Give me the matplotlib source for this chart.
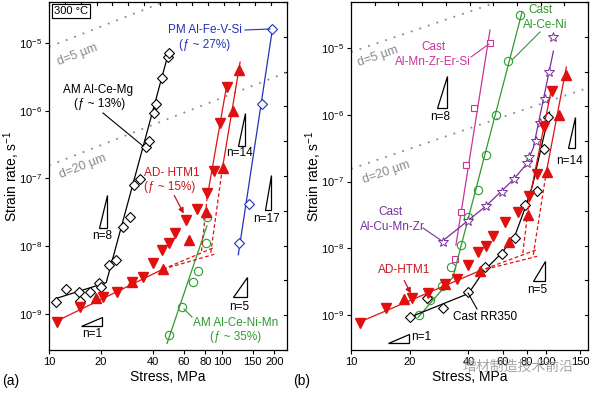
import numpy as np
import matplotlib
matplotlib.use('Agg')
import matplotlib.pyplot as plt
from matplotlib.ticker import NullLocator, FixedLocator, FixedFormatter, LogFormatterSciNotation

plt.rcParams['font.family'] = ['Liberation Sans', 'DejaVu Sans']
plt.rcParams['mathtext.fontset'] = 'custom'
plt.rcParams['mathtext.rm'] = 'Liberation Sans'
plt.rcParams['mathtext.it'] = 'Liberation Sans:italic'

RED = '#e01010'
RED_TXT = '#c8141c'
BLUE = '#2233bb'
GREEN = '#2f9a2f'
MAG = '#cc3399'
PURP = '#7a2e9e'
GRAY = '#8a8a8a'

# ---- data (stress MPa, strain rate 1/s) ----
# AD-HTM1, two test series (down / up triangles)
htm_dn_x = [11.1, 15.1, 20.5, 24.7, 30.2, 34.9, 39.9, 45.0, 49.4, 53.5, 61.9, 71.7, 81.9, 90.0, 97.6, 107]
htm_dn_y = [7.7e-10, 1.27e-9, 1.8e-9, 2.12e-9, 2.97e-9, 3.5e-9, 5.7e-9, 8.7e-9, 1.1e-8, 1.55e-8,
            2.45e-8, 3.55e-8, 6.1e-8, 1.29e-7, 6.6e-7, 2.24e-6]
htm_up_x = [18.7, 30.2, 45.6, 64.4, 80.8, 101.4, 116, 126]
htm_up_y = [1.73e-9, 2.97e-9, 4.6e-9, 1.24e-8, 3.15e-8, 1.41e-7, 1.0e-6, 4.0e-6]
htm_fit_x = [11.0, 45.6]
htm_fit_y = [7.8e-10, 4.6e-9]
htm_ext1_x, htm_ext1_y = [45.6, 90], [4.6e-9, 9.6e-9]
htm_ext2_x, htm_ext2_y = [45.6, 90], [4.6e-9, 7.6e-9]
htm_dn_fit_x, htm_dn_fit_y = [81.9, 107], [5.2e-8, 2.6e-6]
htm_dn_ext_x, htm_dn_ext_y = [76, 81.9], [8.5e-9, 5.2e-8]
htm_up_fit_x, htm_up_fit_y = [100, 127], [1.33e-7, 5.2e-6]
htm_up_ext_x, htm_up_ext_y = [86, 100], [8.0e-9, 1.33e-7]

# AM Al-Ce-Mg
cemg_x = [11.0, 12.5, 14.9, 15.1, 17.3, 19.5, 20.0, 22.2, 24.4, 26.8, 29.4, 31.0, 33.6, 36.4,
          37.8, 40.4, 41.5, 45.0, 48.7, 49.4]
cemg_y = [1.5e-9, 2.34e-9, 2.11e-9, 1.55e-9, 2.1e-9, 2.87e-9, 2.5e-9, 5.3e-9, 6.3e-9, 1.92e-8,
          2.7e-8, 8.0e-8, 9.8e-8, 2.92e-7, 3.58e-7, 9.3e-7, 1.26e-6, 3.04e-6, 6.2e-6, 7.1e-6]
cemg_fit_x = [11.0, 21.4, 49.5]
cemg_fit_y = [1.7e-9, 2.9e-9, 7.8e-6]

# PM Al-Fe-V-Si
fevsi_x = [125, 143, 170, 194.6]
fevsi_y = [1.12e-8, 4.2e-8, 1.26e-6, 1.61e-5]
fevsi_fit_x = [124, 196]
fevsi_fit_y = [7.5e-9, 1.7e-5]

# AM Al-Ce-Ni-Mn
cenimn_x = [49.4, 58.7, 67.9, 72.6, 80.8, 81.7]
cenimn_y = [4.9e-10, 1.27e-9, 2.97e-9, 4.3e-9, 1.12e-8, 2.7e-8]
cenimn_fit_x = [48.1, 81.7]
cenimn_fit_y = [3.7e-10, 2.0e-8]

# Cast Al-Mn-Zr-Er-Si
mnzr_x = [34.1, 36.7, 38.9, 42.8, 51.6]
mnzr_y = [6.9e-9, 3.5e-8, 1.77e-7, 1.26e-6, 1.19e-5]
mnzr_fit_x = [34.5, 51.6]
mnzr_fit_y = [1.12e-8, 1.86e-5]

# Cast Al-Ce-Ni
ceni_x = [22.3, 25.4, 29.3, 32.6, 36.7, 39.8, 44.8, 49.2, 55.4, 63.8, 73.6]
ceni_y = [1.0e-9, 1.68e-9, 2.72e-9, 5.2e-9, 1.12e-8, 2.94e-8, 7.5e-8, 2.5e-7, 9.9e-7, 6.4e-6, 3.12e-5]
ceni_fit_x = [22.1, 33.3, 75.3]
ceni_fit_y = [9.3e-10, 3.7e-9, 3.46e-5]

# Cast Al-Cu-Mn-Zr
cumn_x = [29.6, 39.8, 49.2, 59.5, 68.6, 79.9, 81.8, 88.8, 93.1, 98.8, 103.5, 108.6]
cumn_y = [1.24e-8, 2.56e-8, 4.3e-8, 6.96e-8, 1.09e-7, 1.89e-7, 2.33e-7, 4.04e-7, 7.5e-7,
          1.72e-6, 4.37e-6, 1.46e-5]
cumn_fit_x = [29.6, 49.2, 67.5, 79.0, 86.0, 109]
cumn_fit_y = [1.3e-8, 4.3e-8, 1.05e-7, 1.8e-7, 3.2e-7, 9.0e-6]

# Cast RR350
rr_x = [20.1, 24.5, 29.6, 39.8, 48.6, 59.5, 69.3, 78.0, 89.9, 97.7, 102.4]
rr_y = [9.3e-10, 1.8e-9, 1.27e-9, 2.2e-9, 5.2e-9, 8.2e-9, 1.43e-8, 4.45e-8, 7.2e-8, 3.07e-7, 9.2e-7]
rr_fit_x = [20.4, 40.0, 48.0, 59.5, 69.5, 77.5, 85.0, 104]
rr_fit_y = [9.5e-10, 2.1e-9, 4.6e-9, 8.6e-9, 1.6e-8, 3.8e-8, 8.5e-8, 1.1e-6]

# grain-size lines (rate at 10 MPa, slope 1)
d_labels = ['d=5 \u00b5m', 'd=20 \u00b5m']
d_rate10 = [8.7e-6, 1.55e-7]

xticks_a = [10, 20, 40, 60, 80, 100, 150, 200]
xticks_b = [10, 20, 40, 60, 80, 100, 150]
yticks = [1e-9, 1e-8, 1e-7, 1e-6, 1e-5]

fig = plt.figure(figsize=(5.91, 3.93), dpi=100)
W, H = 591, 393
box_a = (49, 2, 287, 350)
box_b = (351, 2, 588, 350)


def P(box, px, py):
    l, t, r, b = box
    return ((px - l) / (r - l), (b - py) / (b - t))


def make_ax(box, xlim, ylim, xticks, ntop):
    l, t, r, b = box
    ax = fig.add_axes([l / W, 1 - b / H, (r - l) / W, (b - t) / H])
    ax.set_xscale('log')
    ax.set_yscale('log')
    ax.set_xlim(*xlim)
    ax.set_ylim(*ylim)
    ax.xaxis.set_major_locator(FixedLocator(xticks))
    ax.xaxis.set_major_formatter(FixedFormatter([str(v) for v in xticks]))
    ax.yaxis.set_major_locator(FixedLocator(yticks))
    ax.yaxis.set_major_formatter(LogFormatterSciNotation())
    ax.xaxis.set_minor_locator(NullLocator())
    ax.yaxis.set_minor_locator(NullLocator())
    ax.tick_params(axis='both', direction='out', length=3, width=0.8, labelsize=8, pad=2)
    for s in ax.spines.values():
        s.set_linewidth(0.9)
    ax.set_xlabel('Stress, MPa', fontsize=10, va='center')
    ax.xaxis.set_label_coords(0.5, P(box, 0, 377)[1])
    ax.set_ylabel('Strain rate, s$^{-1}$', fontsize=10, va='center')
    ax.yaxis.set_label_coords(P(box, l - 37, 0)[0], 0.5)
    # evenly spaced inner ticks on top and right spines
    tx, ty = 3 / (r - l), 3 / (b - t)
    for f in np.linspace(0, 1, ntop + 1):
        ax.plot([f, f], [1, 1 - ty], color='k', lw=0.8, transform=ax.transAxes, clip_on=False)
    for f in np.linspace(0, 1, 11):
        ax.plot([1, 1 - tx], [f, f], color='k', lw=0.8, transform=ax.transAxes, clip_on=False)
    return ax


def txt(ax, box, px, py, s, color='k', size=8.5, **kw):
    ax.text(*P(box, px, py), s, transform=ax.transAxes, color=color, fontsize=size,
            ha=kw.pop('ha', 'center'), va=kw.pop('va', 'center'), **kw)


def seg(ax, box, p0, p1, color='k'):
    a, b = P(box, *p0), P(box, *p1)
    ax.plot([a[0], b[0]], [a[1], b[1]], color=color, lw=0.8, transform=ax.transAxes)


def tri(ax, box, bl, br_x, top_y, label=None, lpos=None):
    a = P(box, *bl)
    b = P(box, br_x, bl[1])
    c = P(box, br_x, top_y)
    ax.fill([a[0], b[0], c[0]], [a[1], b[1], c[1]], facecolor='white', edgecolor='k',
            lw=0.9, transform=ax.transAxes, zorder=5)
    if label:
        txt(ax, box, lpos[0], lpos[1], label, size=8.5)


def temp_box(ax, box):
    ax.text(*P(box, 54, 11), '300 \u00b0C', transform=ax.transAxes, fontsize=8, ha='left',
            va='center', bbox=dict(boxstyle='square,pad=0.2', fc='white', ec='k', lw=0.8))


def dlines(ax, xlim):
    xs = np.array(xlim)
    for r10 in d_rate10:
        ax.plot(xs, r10 * xs / 10, ls=(0, (1, 4)), color=GRAY, lw=1.3)


def htm(ax):
    ax.plot(htm_fit_x, htm_fit_y, color=RED, lw=0.9)
    for ex, ey in [(htm_ext1_x, htm_ext1_y), (htm_ext2_x, htm_ext2_y),
                   (htm_dn_ext_x, htm_dn_ext_y), (htm_up_ext_x, htm_up_ext_y)]:
        ax.plot(ex, ey, color=RED, lw=0.9, ls=(0, (3, 2)))
    ax.plot(htm_dn_fit_x, htm_dn_fit_y, color=RED, lw=0.9)
    ax.plot(htm_up_fit_x, htm_up_fit_y, color=RED, lw=0.9)
    ax.plot(htm_dn_x, htm_dn_y, 'v', color=RED, ms=6.5, mec=RED, ls='none', zorder=4)
    ax.plot(htm_up_x, htm_up_y, '^', color=RED, ms=6.5, mec=RED, ls='none', zorder=4)


# ================= panel (a) =================
ax = make_ax(box_a, (10, 237), (2.95e-10, 4.0e-5), xticks_a, 15)
A = box_a
dlines(ax, (10, 237))
txt(ax, A, 78, 55, d_labels[0], color=GRAY, size=9, rotation=21)
txt(ax, A, 83, 167, d_labels[1], color=GRAY, size=9, rotation=21)

ax.plot(cemg_fit_x, cemg_fit_y, color='k', lw=0.9)
ax.plot(cemg_x, cemg_y, 'D', mfc='white', mec='k', ms=5.5, mew=0.8, ls='none')
ax.plot(fevsi_fit_x, fevsi_fit_y, color=BLUE, lw=0.9)
ax.plot(fevsi_x, fevsi_y, 'D', mfc='white', mec=BLUE, ms=5.5, mew=0.8, ls='none')
ax.plot(cenimn_fit_x, cenimn_fit_y, color=GREEN, lw=0.9)
ax.plot(cenimn_x, cenimn_y, 'o', mfc='none', mec=GREEN, ms=6, mew=0.8, ls='none')
htm(ax)

temp_box(ax, A)
txt(ax, A, 98, 90, 'AM Al-Ce-Mg')
txt(ax, A, 100, 104, '(\u0192 ~ 13%)')
seg(ax, A, (103, 113), (143, 146))
txt(ax, A, 205, 30, 'PM Al-Fe-V-Si', color=BLUE)
txt(ax, A, 205, 45, '(\u0192 ~ 27%)', color=BLUE)
seg(ax, A, (245, 30), (270, 29), color=BLUE)
txt(ax, A, 172, 173, 'AD- HTM1', color=RED_TXT)
txt(ax, A, 170, 187, '(\u0192 ~ 15%)', color=RED_TXT)
ax.annotate('', xy=P(A, 185, 216), xytext=P(A, 173, 193), xycoords='axes fraction',
            arrowprops=dict(arrowstyle='-|>', color=RED_TXT, lw=0.9, mutation_scale=8))
txt(ax, A, 236, 323, 'AM Al-Ce-Ni-Mn', color=GREEN)
txt(ax, A, 236, 337, '(\u0192 ~ 35%)', color=GREEN)
seg(ax, A, (184, 309), (192, 317), color=GREEN)

tri(ax, A, (99, 228), 107, 195, 'n=8', (102, 236))
tri(ax, A, (81, 326), 102, 317, 'n=1', (92, 334))
tri(ax, A, (238, 146), 245, 113, 'n=14', (240, 153))
tri(ax, A, (265, 210), 271, 175, 'n=17', (267, 219))
tri(ax, A, (233, 297), 247, 277, 'n=5', (239, 307))

# ================= panel (b) =================
bx = make_ax(box_b, (10, 164), (3.0e-10, 4.9e-5), xticks_b, 10)
B = box_b
dlines(bx, (10, 164))
txt(bx, B, 378, 56, d_labels[0], color=GRAY, size=9, rotation=19)
txt(bx, B, 386, 172, d_labels[1], color=GRAY, size=9, rotation=19)

bx.plot(mnzr_fit_x, mnzr_fit_y, color=MAG, lw=0.9)
bx.plot(mnzr_x, mnzr_y, 's', mfc='white', mec=MAG, ms=5, mew=0.8, ls='none')
bx.plot(ceni_fit_x, ceni_fit_y, color=GREEN, lw=0.9)
bx.plot(ceni_x, ceni_y, 'o', mfc='none', mec=GREEN, ms=6, mew=0.8, ls='none')
bx.plot(cumn_fit_x, cumn_fit_y, color=PURP, lw=0.9)
bx.plot(cumn_x, cumn_y, '*', mfc='white', mec=PURP, ms=7, mew=0.7, ls='none')
bx.plot(rr_fit_x, rr_fit_y, color='k', lw=0.9)
bx.plot(rr_x, rr_y, 'D', mfc='white', mec='k', ms=5.5, mew=0.8, ls='none')
htm(bx)

temp_box(bx, B)
txt(bx, B, 433, 47, 'Cast', color=MAG)
txt(bx, B, 433, 62, 'Al-Mn-Zr-Er-Si', color=MAG)
seg(bx, B, (471, 57), (489, 44), color=MAG)
txt(bx, B, 540, 10, 'Cast', color=GREEN)
txt(bx, B, 545, 25, 'Al-Ce-Ni', color=GREEN)
seg(bx, B, (540, 32), (512, 60), color=GREEN)
txt(bx, B, 390, 212, 'Cast', color=PURP)
txt(bx, B, 392, 227, 'Al-Cu-Mn-Zr', color=PURP)
seg(bx, B, (423, 228), (442, 241), color=PURP)
txt(bx, B, 404, 270, 'AD-HTM1', color=RED_TXT)
bx.annotate('', xy=P(B, 412, 296), xytext=P(B, 403, 278), xycoords='axes fraction',
            arrowprops=dict(arrowstyle='-|>', color=RED_TXT, lw=0.9, mutation_scale=8))
txt(bx, B, 485, 317, 'Cast RR350')
seg(bx, B, (477, 309), (468, 293))

tri(bx, B, (437, 108), 447, 76, 'n=8', (440, 117))
tri(bx, B, (568, 148), 575, 117, 'n=14', (570, 161))
tri(bx, B, (533, 281), 545, 261, 'n=5', (537, 290))
tri(bx, B, (388, 343), 409, 334)
txt(bx, B, 421, 337, 'n=1')

fig.text(2 / W, 1 - 381 / H, '(a)', fontsize=10, ha='left', va='center')
fig.text(293 / W, 1 - 381 / H, '(b)', fontsize=10, ha='left', va='center')
fig.text(518 / W, 1 - 367 / H, '增材制造技术前沿', fontsize=10, ha='center', va='center',
         color='#9a9a9a', family=['Noto Sans CJK SC', 'DejaVu Sans'], alpha=0.9)

fig.savefig('out.png', dpi=100)
